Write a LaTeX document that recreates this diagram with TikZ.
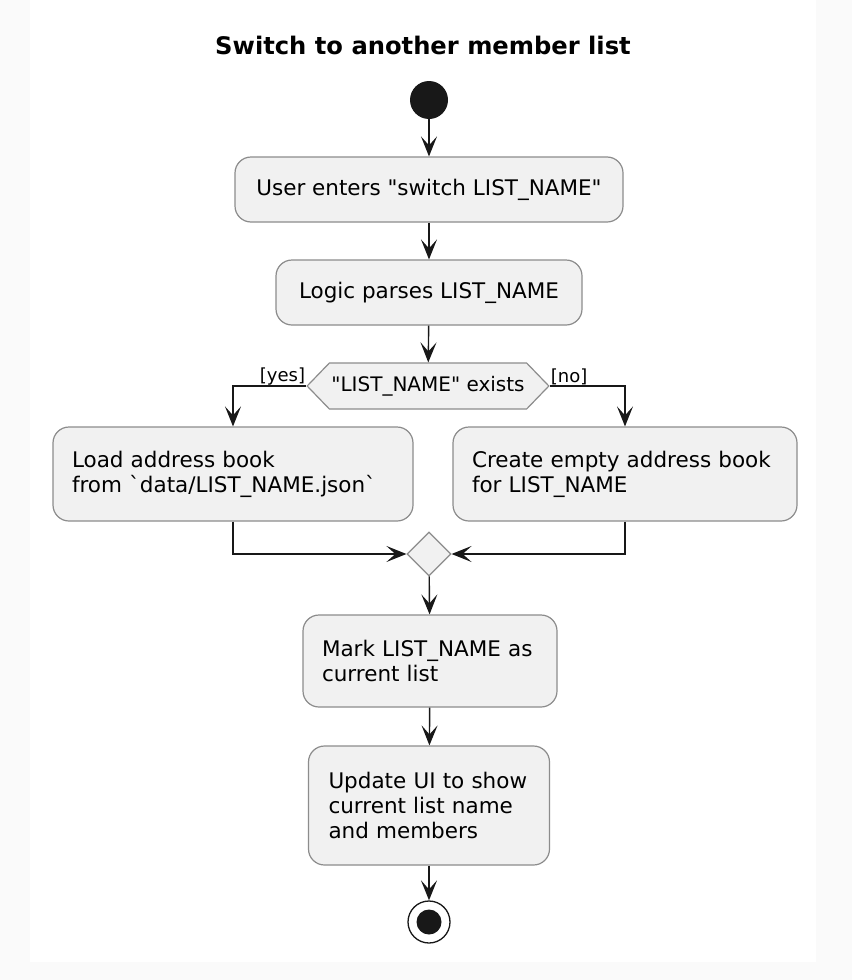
\documentclass[tikz,border=0pt]{standalone}
\usepackage{fontspec}
\newfontfamily\umlfont{DejaVu Sans}
\usepackage{tikz}
\usetikzlibrary{arrows.meta}
\usetikzlibrary{shapes.geometric,shapes.symbols}
\usetikzlibrary{positioning}
\definecolor{actfill}{HTML}{F1F1F1}
\definecolor{actline}{HTML}{8C8C8C}
\definecolor{pagegray}{HTML}{FAFAFA}
\definecolor{ink}{HTML}{181818}

\begin{document}
\begin{tikzpicture}[x=1pt,y=-1pt,
  action/.style={draw=actline,fill=actfill,line width=1.2pt,rounded corners=16pt,
    align=left,inner xsep=19pt,font=\umlfont\fontsize{21.5}{25}\selectfont},
  decision/.style={shape=signal,signal to=west and east,signal pointer angle=92,
    draw=actline,fill=actfill,line width=1.2pt,inner xsep=2pt,
    font=\umlfont\fontsize{20}{24}\selectfont},
  merge/.style={diamond,draw=actline,fill=actfill,line width=1.2pt,
    minimum size=44pt,inner sep=0pt},
  startdot/.style={circle,fill=ink,minimum size=38pt,inner sep=0pt},
  endring/.style={circle,draw=ink,line width=1.3pt,fill=white,minimum size=42pt,inner sep=0pt},
  guard/.style={font=\umlfont\fontsize{18}{22}\selectfont,inner sep=1pt},
  flow/.style={draw=ink,line width=1.4pt,-{Stealth[length=20pt,width=16pt,inset=9pt]}}]

  % page
  \fill[pagegray] (0,0) rectangle (852,980);
  \fill[white] (30,0) rectangle (816,962);
  \useasboundingbox (0,0) rectangle (852,980);

  \node[font=\umlfont\bfseries\fontsize{24.2}{28}\selectfont] (title) at (423,45) {Switch to another member list};

  \node[startdot] (start) at (429,100) {};
  \node[action,minimum width=388pt,minimum height=65pt] (enter) at (429,189.5) {User enters "switch LIST\_NAME"};
  \node[action,minimum width=306pt,minimum height=65pt] (parse) at (429,292.5) {Logic parses LIST\_NAME};
  \node[decision,minimum width=240pt,minimum height=46pt] (exists) at (428,386) {"LIST\_NAME" exists};

  \node[action,text width=322pt,minimum height=94pt] (load) at (233,474) {Load address book\\from `data/LIST\_NAME.json`};
  \node[action,text width=306pt,minimum height=94pt] (create) at (625,474) {Create empty address book\\for LIST\_NAME};

  \node[merge] (join) at (429,554) {};

  \node[action,text width=216pt,minimum height=92pt] (mark) at (430,661) {Mark LIST\_NAME as\\current list};
  \node[action,text width=201pt,inner xsep=20pt,minimum height=119pt] (update) at (429,805.5) {Update UI to show\\current list name\\and members};

  \node[endring] (stop) at (429,922) {};
  \fill[ink] (stop.center) circle (12.5pt);

  % guards
  \node[guard,anchor=south east] (yes) at (exists.west) {[yes]};
  \node[guard,anchor=south west] (no) at (exists.east) {[no]};

  % flow
  \draw[flow] (start) -- (enter);
  \draw[flow] (enter) -- (parse);
  \draw[flow] (parse) -- (exists);
  \draw[flow] (exists.west) -| (load.north);
  \draw[flow] (exists.east) -| (create.north);
  \draw[flow] (load.south) |- (join.west);
  \draw[flow] (create.south) |- (join.east);
  \draw[flow] (join) -- (mark);
  \draw[flow] (mark) -- (update);
  \draw[flow] (update) -- (stop);
\end{tikzpicture}
\end{document}
